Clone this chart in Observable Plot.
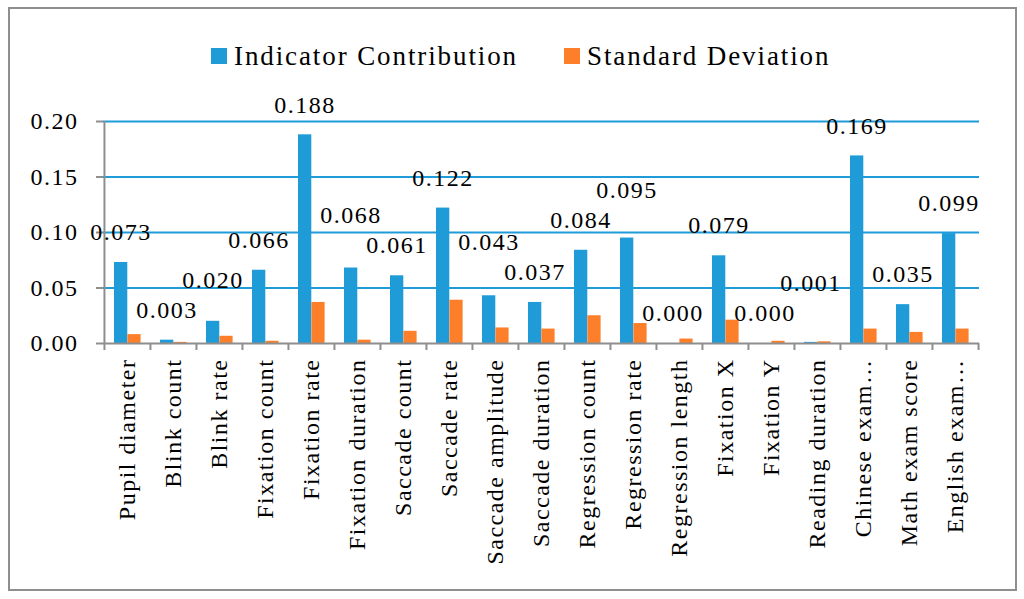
<!DOCTYPE html>
<html>
<head>
<meta charset="utf-8">
<script src="https://cdn.jsdelivr.net/npm/d3@7"></script>
<script src="https://cdn.jsdelivr.net/npm/@observablehq/plot@0.6"></script>
<style>
  body { margin: 0; background: #fff; }
  #wrap { position: relative; width: 1024px; height: 599px; overflow: hidden; font-family: "Liberation Serif", "Times New Roman", serif; color: #000; }
  #frame { position: absolute; left: 8px; top: 7px; width: 1005px; height: 580px; border: 2px solid #8e8e8e; }
  .leg { position: absolute; top: 39px; height: 34px; display: flex; align-items: center; font-size: 27px; letter-spacing: 1.9px; white-space: nowrap; }
  .sw { width: 16px; height: 16px; margin-right: 7px; }
  #chart { position: absolute; left: 0; top: 80px; }
  #chart svg text { letter-spacing: 1.5px; }
</style>
</head>
<body>
<div id="wrap">
  <div id="frame"></div>
  <div class="leg" style="left:211px"><div class="sw" style="background:#1f9cd8"></div><span>Indicator Contribution</span></div>
  <div class="leg" style="left:564px"><div class="sw" style="background:#fe7f2a"></div><span>Standard Deviation</span></div>
  <div id="chart"></div>
</div>
<script>
const categories = ["Pupil diameter", "Blink count", "Blink rate", "Fixation count", "Fixation rate", "Fixation duration", "Saccade count", "Saccade rate", "Saccade amplitude", "Saccade duration", "Regression count", "Regression rate", "Regression length", "Fixation X", "Fixation Y", "Reading duration", "Chinese exam score", "Math exam score", "English exam score"];
const tickLabels = ["Pupil diameter", "Blink count", "Blink rate", "Fixation count", "Fixation rate", "Fixation duration", "Saccade count", "Saccade rate", "Saccade amplitude", "Saccade duration", "Regression count", "Regression rate", "Regression length", "Fixation X", "Fixation Y", "Reading duration", "Chinese exam…", "Math exam score", "English exam…"];
const indicatorContribution = [0.073, 0.003, 0.020, 0.066, 0.188, 0.068, 0.061, 0.122, 0.043, 0.037, 0.084, 0.095, 0.000, 0.079, 0.000, 0.001, 0.169, 0.035, 0.099];
const standardDeviation = [0.008, 0.001, 0.0065, 0.002, 0.037, 0.003, 0.011, 0.039, 0.014, 0.013, 0.025, 0.018, 0.004, 0.021, 0.002, 0.0015, 0.013, 0.010, 0.013];
const yTicks = [0, 0.05, 0.10, 0.15, 0.20];

const W = 1024, H = 519, mT = 41, mB = 256, mL = 103, mR = 45;
const bw = (W - mL - mR) / categories.length;
const pxPerUnit = (H - mT - mB) / 0.2;
const blue = "#1f9cd8", orange = "#fe7f2a", axisGray = "#8e8e8e";

// data-label placement: above each blue bar; when two neighbouring labels collide,
// the label of the taller bar is lifted (as the spreadsheet's layout did)
const lift = 30 / pxPerUnit, gap = 30 / pxPerUnit;
const labelY = indicatorContribution.map(v => v + lift);
for (let i = 1; i < labelY.length; i++) {
  if (Math.abs(labelY[i] - labelY[i - 1]) < gap) {
    if (indicatorContribution[i] >= indicatorContribution[i - 1]) labelY[i] = labelY[i - 1] + gap;
    else labelY[i - 1] = labelY[i] + gap;
  }
}

const rows = categories.map((c, i) => ({cat: c, tick: tickLabels[i], ic: indicatorContribution[i], sd: standardDeviation[i], ly: labelY[i]}));

const chart = Plot.plot({
  width: W, height: H,
  marginTop: mT, marginBottom: mB, marginLeft: mL, marginRight: mR,
  style: {fontFamily: "Liberation Serif, Times New Roman, serif", fontSize: "24px", color: "#000", background: "transparent", overflow: "visible"},
  x: {type: "band", domain: categories, padding: 0, axis: null},
  y: {domain: [0, 0.2], axis: null},
  marks: [
    Plot.gridY(yTicks.slice(1), {stroke: blue, strokeOpacity: 1, strokeWidth: 2}),
    Plot.barY(rows, {x: "cat", y: "ic", fill: blue, insetLeft: 10, insetRight: bw - 23.4}),
    Plot.barY(rows, {x: "cat", y: "sd", fill: orange, insetLeft: 23.4, insetRight: bw - 36.7}),
    Plot.ruleY([0], {stroke: axisGray, strokeWidth: 2}),
    Plot.ruleX([categories[0]], {x: d => d, dx: -bw / 2, stroke: axisGray, strokeWidth: 2}),
    Plot.ruleX(categories, {x: d => d, dx: -bw / 2, insetTop: H - mT - mB, insetBottom: -7, stroke: axisGray, strokeWidth: 2}),
    Plot.ruleX([categories[categories.length - 1]], {x: d => d, dx: bw / 2, insetTop: H - mT - mB, insetBottom: -7, stroke: axisGray, strokeWidth: 2}),
    Plot.axisY({ticks: yTicks, tickFormat: d3.format(".2f"), tickSize: 7, tickPadding: 18, stroke: axisGray, strokeWidth: 2, fill: "#000", fontSize: 24, label: null}),
    // category tick labels, rotated, hanging from the axis
    Plot.text(rows, {x: "cat", y: () => 0, text: "tick", rotate: -90, textAnchor: "end", lineAnchor: "middle", dy: 15, fill: "#000", fontSize: 24}),
    Plot.text(rows, {x: "cat", y: "ly", text: d => d3.format(".3f")(d.ic), dx: -6.4, fill: "#000", fontSize: 24})
  ]
});
document.getElementById("chart").appendChild(chart);
</script>
</body>
</html>
